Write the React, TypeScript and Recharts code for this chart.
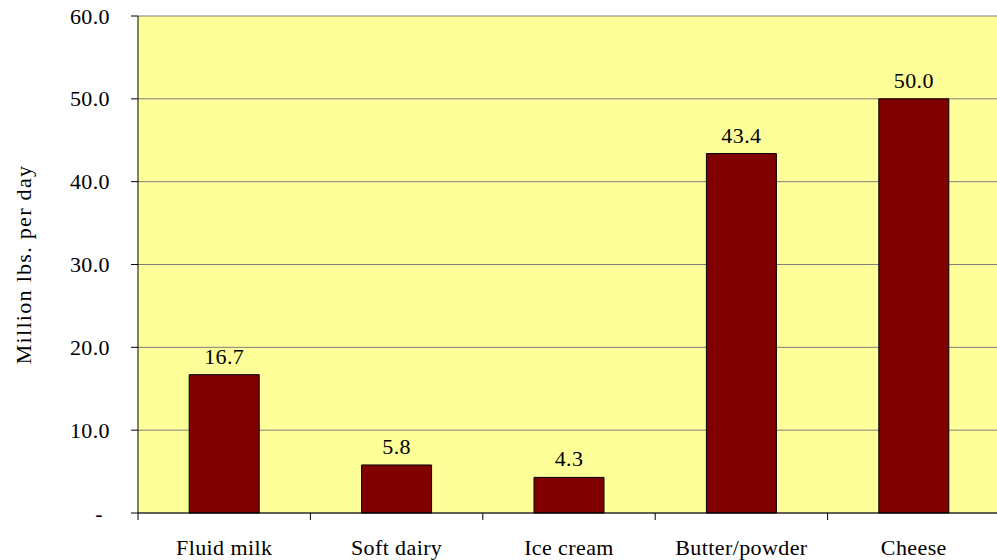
import React from 'react';
import { BarChart, Bar, XAxis, YAxis, CartesianGrid, LabelList } from 'recharts';

const categories = ['Fluid milk', 'Soft dairy', 'Ice cream', 'Butter/powder', 'Cheese'];
const volumes = [16.7, 5.8, 4.3, 43.4, 50.0];
const yTicks = [0, 10, 20, 30, 40, 50, 60];

const data = categories.map((name, i) => ({ name, value: volumes[i] }));

const FONT = "'Liberation Serif', Tinos, 'Times New Roman', Times, 'Nimbus Roman', FreeSerif, serif";
const textStyle = { fontFamily: FONT, fontSize: 22, letterSpacing: 0.4, fill: '#000' };

const fmt = (v: number) => (v === 0 ? '-' : v.toFixed(1));

const XTick = (props: any) => {
  const { x, y, payload, width } = props;
  const half = width / categories.length / 2;
  return (
    <g>
      <line x1={x - half} y1={y} x2={x - half} y2={y + 7} stroke="#000" />
      <text x={x} y={y + 42} textAnchor="middle" fontFamily={FONT} style={textStyle}>
        {payload.value}
      </text>
    </g>
  );
};

const YTick = (props: any) => {
  const { x, y, payload } = props;
  const shift = payload.value === 0 ? -7 : 0;
  return (
    <text x={x + shift} y={y} textAnchor="end" dominantBaseline="central" fontFamily={FONT} style={textStyle}>
      {fmt(payload.value)}
    </text>
  );
};

const YLabel = ({ viewBox }: any) => {
  const cy = viewBox.y + viewBox.height / 2;
  return (
    <text
      x={23}
      y={cy}
      transform={`rotate(-90, 23, ${cy})`}
      textAnchor="middle"
      dominantBaseline="central"
      fontFamily={FONT}
      style={{ ...textStyle, letterSpacing: 1.3 }}
    >
      Million lbs. per day
    </text>
  );
};

export default function App() {
  return (
    <div style={{ position: 'absolute', left: 0, top: 0, fontFamily: FONT }}>
      <BarChart
        width={1000}
        height={560}
        data={data}
        margin={{ top: 16, right: 0, bottom: 0, left: 0 }}
        barCategoryGap="29.7%"
      >
        <CartesianGrid vertical={false} stroke="#7f7f7f" fill="#FFFF99" fillOpacity={1} />
        <XAxis
          dataKey="name"
          height={47}
          axisLine={{ stroke: '#000' }}
          tickLine={false}
          tickSize={0}
          tickMargin={0}
          tick={<XTick />}
          interval={0}
        />
        <YAxis
          width={138}
          domain={[0, 60]}
          ticks={yTicks}
          interval={0}
          axisLine={{ stroke: '#000' }}
          tickLine={{ stroke: '#000' }}
          tickSize={7}
          tickMargin={21}
          tick={<YTick />}
          label={<YLabel />}
        />
        <Bar dataKey="value" fill="#800000" stroke="#000" strokeWidth={1} isAnimationActive={false}>
          <LabelList
            dataKey="value"
            position="top"
            offset={11}
            formatter={(v: any) => Number(v).toFixed(1)}
            fontFamily={FONT}
            style={textStyle}
          />
        </Bar>
      </BarChart>
    </div>
  );
}
